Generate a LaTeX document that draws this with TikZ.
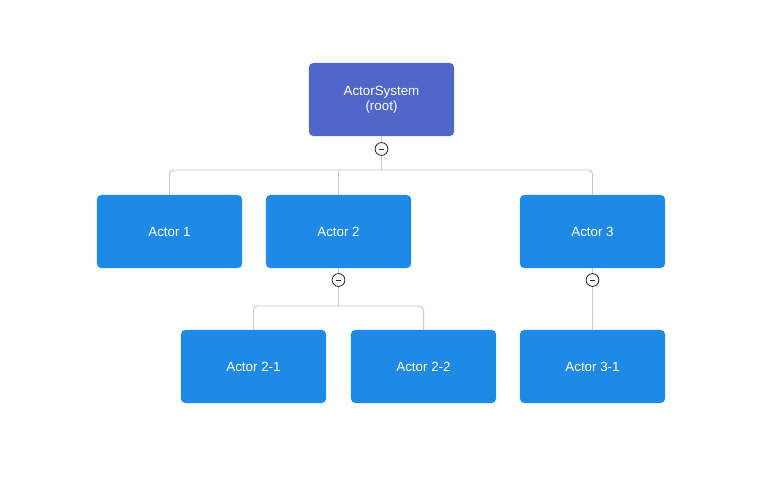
\documentclass[tikz,border=0pt]{standalone}
\usepackage{fontspec}
\setmainfont{Liberation Sans}
\definecolor{rootblue}{HTML}{4F67C8}
\definecolor{actorblue}{HTML}{1E8AE6}
\definecolor{linkgray}{HTML}{C8C8C8}

\begin{document}
\begin{tikzpicture}[
    x=0.025cm, y=-0.025cm,
    actor/.style={rectangle, rounded corners=3pt, fill=#1, text=white, minimum width=3.625cm, minimum height=1.825cm, align=center, font=\fontsize{9.5}{11}\selectfont},
    root actor/.style={actor=rootblue},
    child actor/.style={actor=actorblue},
    toggle/.style={circle, draw=black!85, fill=white, line width=0.6pt, minimum size=0.32cm, inner sep=0pt,
        path picture={\draw[line width=0.6pt] ([xshift=-2.1pt]path picture bounding box.center) -- ([xshift=2.1pt]path picture bounding box.center);}},
    link/.style={draw=linkgray, line width=0.7pt, rounded corners=3pt}
]

\useasboundingbox (0,0) rectangle (773,485);

% Boxes
\node[root actor] (root) at (381.5,99.5) {ActorSystem\\(root)};

\node[child actor] (A1) at (169.5,231.5) {Actor 1};
\node[child actor] (A2) at (338.5,231.5) {Actor 2};
\node[child actor] (A3) at (592.5,231.5) {Actor 3};

\node[child actor] (A21) at (253.5,366.5) {Actor 2-1};
\node[child actor] (A22) at (423.5,366.5) {Actor 2-2};
\node[child actor] (A31) at (592.5,366.5) {Actor 3-1};

% Bus points
\coordinate (bus0) at (381.5,170);
\coordinate (bus2) at (338.5,306);

% Links from root
\draw[link] (root.south) -- (bus0);
\draw[link] (bus0) -| (A1.north);
\draw[link] (bus0) -| (A3.north);
\draw[link] (A2.north |- bus0) -- (A2.north);

% Links from Actor 2
\draw[link] (A2.south) -- (bus2);
\draw[link] (bus2) -| (A21.north);
\draw[link] (bus2) -| (A22.north);

% Link from Actor 3
\draw[link] (A3.south) -- (A31.north);

% Collapse toggles
\node[toggle] (t0) at (381.5,149) {};
\node[toggle] (t2) at (338.5,280) {};
\node[toggle] (t3) at (592.5,280) {};

\end{tikzpicture}
\end{document}
